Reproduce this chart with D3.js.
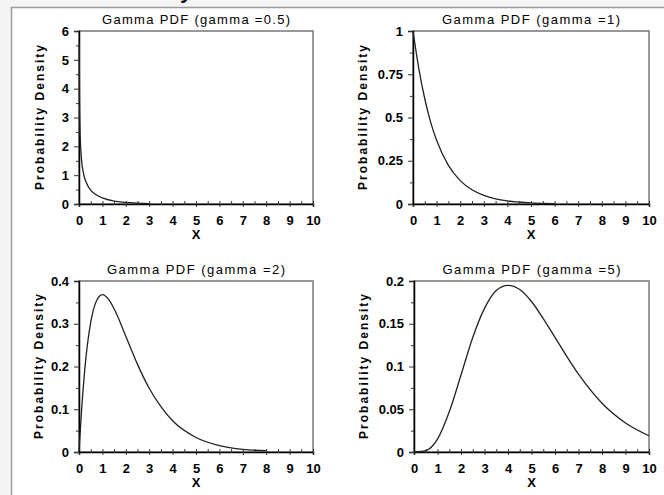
<!DOCTYPE html>
<html>
<head>
<meta charset="utf-8">
<script src="https://cdn.jsdelivr.net/npm/d3@7"></script>
<style>
  body { margin: 0; background: #f5f5f5; }
  svg { display: block; }
</style>
</head>
<body>
<div id="visual"></div>
<script>
// panel titles
const titles = [
    "Gamma PDF (gamma =0.5)",
    "Gamma PDF (gamma =1)",
    "Gamma PDF (gamma =2)",
    "Gamma PDF (gamma =5)"
];

// x axis (same for every panel)
const xTicks = [0, 1, 2, 3, 4, 5, 6, 7, 8, 9, 10];

// y axis ticks per panel
const yTicks05 = [0, 1, 2, 3, 4, 5, 6];
const yTicks1 = [0, 0.25, 0.5, 0.75, 1];
const yTicks2 = [0, 0.1, 0.2, 0.3, 0.4];
const yTicks5 = [0, 0.05, 0.1, 0.15, 0.2];

// curves
const gamma05X = [0.01, 0.02, 0.05, 0.1, 0.2, 0.3, 0.5, 0.75, 1, 1.5, 2, 2.5, 3];
const gamma05Y = [5.59, 3.91, 2.40, 1.61, 1.03, 0.76, 0.48, 0.31, 0.21, 0.10, 0.054, 0.029, 0.016];

const gamma1X = [0, 0.25, 0.5, 0.75, 1, 1.5, 2, 2.5, 3, 3.5, 4, 5, 6];
const gamma1Y = [1, 0.78, 0.607, 0.472, 0.368, 0.223, 0.135, 0.082, 0.05, 0.03, 0.018, 0.007, 0.0025];

const gamma2X = [0, 0.1, 0.25, 0.5, 0.75, 1, 1.25, 1.5, 2, 2.5, 3, 3.5, 4, 5, 6, 7, 8];
const gamma2Y = [0, 0.09, 0.195, 0.303, 0.354, 0.368, 0.358, 0.335, 0.271, 0.205, 0.149, 0.106, 0.073, 0.034, 0.015, 0.006, 0.003];

const gamma5X = [0, 0.5, 1, 1.5, 2, 2.5, 3, 3.5, 4, 4.5, 5, 5.5, 6, 7, 8, 9, 10];
const gamma5Y = [0, 0.0016, 0.015, 0.047, 0.09, 0.134, 0.168, 0.189, 0.195, 0.19, 0.176, 0.156, 0.134, 0.091, 0.057, 0.034, 0.019];

function gammaPanels() {
    const FONT = "Liberation Sans, Arial, Helvetica, sans-serif";
    let width = 664,
        height = 495;

    let chart = function chart(selector, panels) {

        let svg = d3.select(selector)
            .append("svg")
            .attr("width", width)
            .attr("height", height);

        // cut-off heading above the frame
        svg.append("text")
            .attr("x", 180)
            .attr("y", -2)
            .style("font-family", FONT)
            .style("font-size", "22px")
            .style("font-weight", "bold")
            .style("fill", "#111")
            .text("y");

        // white page with a grey frame
        svg.append("rect")
            .attr("x", 11.5)
            .attr("y", 7.5)
            .attr("width", 700)
            .attr("height", 600)
            .style("fill", "#fff")
            .style("stroke", "#9a9a9a")
            .style("stroke-width", 1.5);

        panels.forEach(function (p) {
            let x = d3.scaleLinear().domain([0, 10]).range([p.left, p.right]);
            let y = d3.scaleLinear().domain([0, p.yMax]).range([p.bottom, p.top]);
            let g = svg.append("g");

            // plot box (top / right)
            g.append("rect")
                .attr("x", p.left)
                .attr("y", p.top)
                .attr("width", p.right - p.left)
                .attr("height", p.bottom - p.top)
                .style("fill", "none")
                .style("stroke", "#777")
                .style("stroke-width", 1.5);

            // x axis
            let xAxis = g.append("g")
                .attr("transform", "translate(0," + p.bottom + ")")
                .call(d3.axisBottom(x).tickValues(xTicks).tickSize(3).tickPadding(9).tickFormat(d3.format("d")));
            xAxis.selectAll(".tick line").attr("y1", -3);
            g.append("g")
                .attr("transform", "translate(0," + p.bottom + ")")
                .call(d3.axisBottom(x).tickValues(d3.range(0.5, 10, 1)).tickSize(0).tickFormat(""))
                .call(function (s) { s.select(".domain").remove(); })
                .selectAll(".tick line").attr("y1", -3).attr("y2", 1);

            // y axis
            g.append("g")
                .attr("transform", "translate(" + p.left + ",0)")
                .call(d3.axisLeft(y).tickValues(p.yTicks).tickSize(5).tickPadding(5).tickFormat(function (d) { return String(+d.toFixed(2)); }));
            let step = p.yTicks[1] - p.yTicks[0];
            g.append("g")
                .attr("transform", "translate(" + p.left + ",0)")
                .call(d3.axisLeft(y).tickValues(p.yTicks.slice(1).map(function (d) { return d - step / 2; })).tickSize(3).tickFormat(""))
                .call(function (s) { s.select(".domain").remove(); });

            g.selectAll(".domain").style("stroke", "#000").style("stroke-width", 1.5);
            g.selectAll(".tick line").style("stroke", "#333");
            g.selectAll(".tick text")
                .style("font-family", FONT)
                .style("font-size", "13px")
                .style("font-weight", "bold")
                .style("fill", "#000");

            // curve
            let line = d3.line()
                .x(function (d) { return x(d[0]); })
                .y(function (d) { return y(d[1]); })
                .curve(d3.curveMonotoneX);
            g.append("path")
                .datum(d3.zip(p.xs, p.ys))
                .attr("d", line)
                .style("fill", "none")
                .style("stroke", "#222")
                .style("stroke-width", 1.3);

            // title
            g.append("text")
                .attr("x", (p.left + p.right) / 2)
                .attr("y", p.top - 7)
                .attr("text-anchor", "middle")
                .attr("textLength", p.titleLen)
                .attr("lengthAdjust", "spacing")
                .style("font-family", FONT)
                .style("font-size", "13px")
                .style("fill", "#000")
                .text(p.title);

            // x label
            g.append("text")
                .attr("x", x(5))
                .attr("y", p.bottom + 35)
                .attr("text-anchor", "middle")
                .style("font-family", FONT)
                .style("font-size", "13px")
                .style("font-weight", "bold")
                .text("X");

            // y label
            g.append("text")
                .attr("transform", "translate(" + (p.left - p.labelGap) + "," + ((p.top + p.bottom) / 2) + ") rotate(-90)")
                .attr("text-anchor", "middle")
                .attr("textLength", 145)
                .attr("lengthAdjust", "spacing")
                .style("font-family", FONT)
                .style("font-size", "12px")
                .style("font-weight", "bold")
                .text("Probability Density");
        });
    };

    return chart;
}

try {
    let panels = [
        {title: titles[0], titleLen: 188, xs: gamma05X, ys: gamma05Y, yTicks: yTicks05, yMax: 6,
         left: 79, right: 313, top: 31, bottom: 204, labelGap: 35},
        {title: titles[1], titleLen: 178, xs: gamma1X, ys: gamma1Y, yTicks: yTicks1, yMax: 1,
         left: 413, right: 649, top: 31, bottom: 204, labelGap: 46},
        {title: titles[2], titleLen: 178, xs: gamma2X, ys: gamma2Y, yTicks: yTicks2, yMax: 0.4,
         left: 79, right: 313, top: 281, bottom: 452, labelGap: 36},
        {title: titles[3], titleLen: 178, xs: gamma5X, ys: gamma5Y, yTicks: yTicks5, yMax: 0.2,
         left: 414, right: 649, top: 281, bottom: 452, labelGap: 46}
    ];

    let myPanels = gammaPanels();
    myPanels("#visual", panels);
}
catch (err) {
    console.log(err);
}
</script>
</body>
</html>
